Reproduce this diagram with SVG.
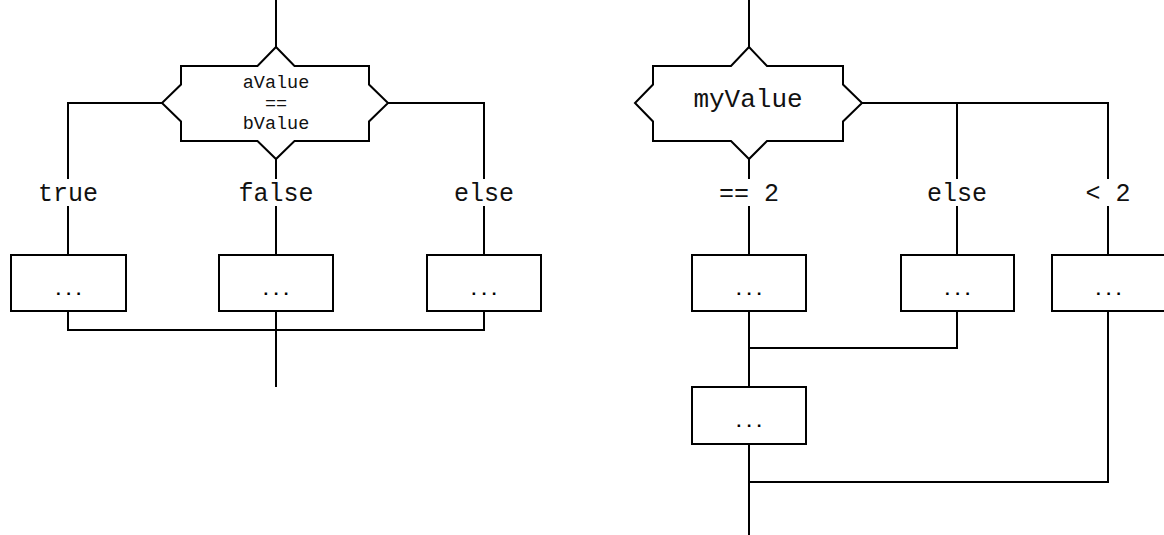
<svg xmlns="http://www.w3.org/2000/svg" width="1164" height="535" viewBox="0 0 1164 535">
<style>
.sh{fill:#fff;stroke:#000;stroke-width:2}
.ln{fill:none;stroke:#000;stroke-width:2}
.t{font-family:"Liberation Mono","Courier New",monospace;fill:#111;text-anchor:middle}
.lb{font-size:25px}
.mv{font-size:26px}
.sm{font-size:18.5px}
.dt{font-size:17px;font-weight:bold;fill:#000}
</style>
<rect width="1164" height="535" fill="#fff"/>
<g id="connectors">
<path class="ln" d="M276 0V47"/>
<path class="ln" d="M162 103H68V179M68 206V255"/>
<path class="ln" d="M388 103H484V179M484 206V255"/>
<path class="ln" d="M276 159V179M276 206V255"/>
<path class="ln" d="M68 311V330H484V311M276 311V387"/>
<path class="ln" d="M749 0V47"/>
<path class="ln" d="M749 159V179M749 206V255"/>
<path class="ln" d="M862 103H1108V179M1108 206V255"/>
<path class="ln" d="M957 103V179M957 206V255"/>
<path class="ln" d="M749 311V387M749 348H957V311"/>
<path class="ln" d="M749 444V535M749 482H1108V311"/>
</g>
<g id="dec1">
<path class="sh" d="M181 66H257.5L276 47L294.5 66H369V84.5L388 103L369 121.5V141H294.5L276 159L257.5 141H181V121.5L162 103L181 84.5Z"/>
<text class="t sm" x="276" y="88">aValue</text>
<text class="t sm" x="276" y="108.5">==</text>
<text class="t sm" x="276" y="129">bValue</text>
</g>
<g id="lbl-true"><text class="t lb" x="68" y="201">true</text></g>
<g id="lbl-false"><text class="t lb" x="276" y="201">false</text></g>
<g id="lbl-else1"><text class="t lb" x="484" y="201">else</text></g>
<g id="box1"><rect class="sh" x="11" y="255" width="115" height="56"/><text class="t dt" x="68.5" y="295">...</text></g>
<g id="box2"><rect class="sh" x="219" y="255" width="114" height="56"/><text class="t dt" x="276" y="295">...</text></g>
<g id="box3"><rect class="sh" x="427" y="255" width="114" height="56"/><text class="t dt" x="484" y="295">...</text></g>
<g id="dec2">
<path class="sh" d="M653 66H731L749 47L767 66H843V84.5L862 103L843 121.5V141H767L749 159L731 141H653V121.5L635 103L653 84.5Z"/>
<text class="t mv" x="748" y="107">myValue</text>
</g>
<g id="lbl-eq2"><text class="t lb" x="749" y="201">== 2</text></g>
<g id="lbl-else2"><text class="t lb" x="957" y="201">else</text></g>
<g id="lbl-lt2"><text class="t lb" x="1108" y="201">&lt; 2</text></g>
<g id="box4"><rect class="sh" x="692" y="255" width="114" height="56"/><text class="t dt" x="749" y="295">...</text></g>
<g id="box5"><rect class="sh" x="901" y="255" width="113" height="56"/><text class="t dt" x="957.5" y="295">...</text></g>
<g id="box6"><rect class="sh" x="1052" y="255" width="114" height="56"/><text class="t dt" x="1108.5" y="295">...</text></g>
<g id="box7"><rect class="sh" x="692" y="387" width="114" height="57"/><text class="t dt" x="749" y="427">...</text></g>
</svg>
